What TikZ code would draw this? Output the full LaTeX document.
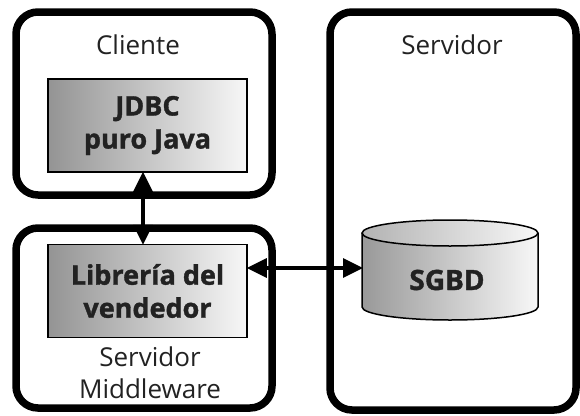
\documentclass[tikz,border=0pt]{standalone}
\usepackage{fontspec}
\setmainfont{Open Sans}[BoldFeatures={FakeBold=1.3}]
\usetikzlibrary{arrows.meta}
\definecolor{txt}{HTML}{222222}
\tikzset{
  outerbox/.style={draw=black, line width=7.5pt, rounded corners=22pt},
  innerbox/.style={draw=black, line width=1.5pt, left color=black!42, right color=black!3,
    minimum width=199pt, minimum height=93pt, inner sep=0pt, align=center,
    text=txt, font=\fontsize{27}{33}\selectfont\bfseries},
  lbl/.style={text=txt, align=center, font=\fontsize{26}{32}\selectfont},
  arr/.style={line width=3.2pt, {Triangle[length=20pt,width=19pt]}-{Triangle[length=20pt,width=19pt]}, shorten <=-1pt, shorten >=-1pt}
}
\begin{document}
\begin{tikzpicture}[x=1pt,y=-1pt]
\useasboundingbox (0,0) rectangle (580,415);
% outer boxes
\draw[outerbox] (16,12) rectangle (272,195);
\draw[outerbox] (16,228) rectangle (272,408);
\draw[outerbox] (330,12) rectangle (576,410);
% labels
\node[lbl] (cli) at (138,45) {Cliente};
\node[lbl] (srv) at (452,45) {Servidor};
\node[lbl] (mid) at (150,373) {Servidor\\Middleware};
% inner boxes
\node[innerbox] (jdbc) at (147.5,125.5) {JDBC\\puro Java};
\node[innerbox] (lib) at (147.5,291) {Librería del\\vendedor};
% cylinder
\fill[left color=black!40, right color=black!3] (362,233) -- (362,307) arc[start angle=180, end angle=0, x radius=88, y radius=13] -- (538,233) -- cycle;
\draw[line width=1.5pt] (362,233) -- (362,307) arc[start angle=180, end angle=0, x radius=88, y radius=13] -- (538,233);
\draw[line width=1.5pt, left color=black!30, right color=black!3] (450,233) ellipse [x radius=88, y radius=13];
\node[text=txt, font=\fontsize{28}{32}\selectfont\bfseries] (db) at (447,280) {SGBD};
\coordinate (dbw) at (362,268);
\coordinate (va) at (143,0);
% connectors
\draw[arr] (jdbc.south -| va) -- (lib.north -| va);
\draw[arr] (dbw -| lib.east) -- (dbw);
\end{tikzpicture}
\end{document}
